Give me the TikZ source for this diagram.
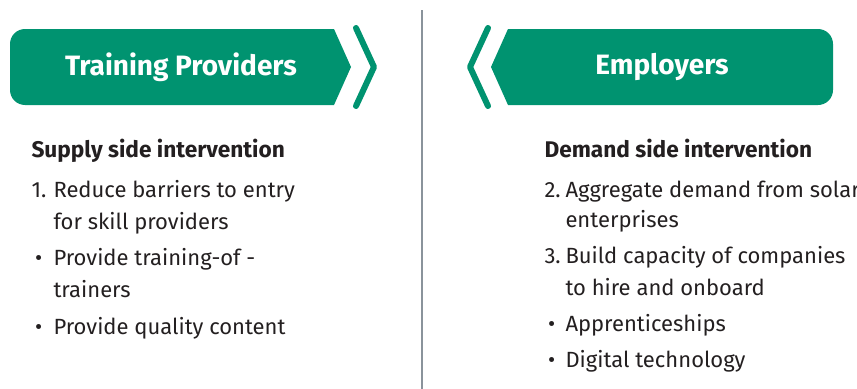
\documentclass[tikz,border=0pt]{standalone}
\usepackage{fontspec}
\setmainfont{Fira Sans}
\definecolor{bannergreen}{RGB}{0,147,112}
\definecolor{bodytext}{RGB}{35,31,32}
\definecolor{dividergray}{RGB}{138,147,155}
\tikzset{every picture/.style={line width=0.75pt}}
\tikzset{
  banner/.style={fill=bannergreen, draw=none},
  chevron/.style={draw=bannergreen, line width=4.5pt, line cap=round, line join=round},
  bannertext/.style={anchor=center, inner sep=0.75pt, text=white, font=\fontsize{21}{24}\selectfont\bfseries},
  headtext/.style={anchor=base west, inner sep=0.75pt, text=bodytext, font=\fontsize{17}{20}\selectfont\bfseries},
  itemtext/.style={anchor=base west, inner sep=0.75pt, text=bodytext, font=\fontsize{16.5}{19}\selectfont}
}

\begin{document}
\begin{tikzpicture}[x=0.75pt,y=0.75pt,yscale=-1,xscale=1]
\clip (0,0) rectangle (857,389);

%Divider [id:divider]
\draw [color=dividergray, line width=1.5pt] (422,10) -- (422,389) ;

%Banner Training Providers
\fill [banner] (334,29) -- (351,67) -- (334,105) -- (25,105) .. controls (16.7,105) and (10,98.3) .. (10,90) -- (10,44) .. controls (10,35.7) and (16.7,29) .. (25,29) -- cycle ;
\draw [chevron] (356,28) -- (374,67) -- (356,106) ;
%Banner Employers
\fill [banner] (508,29) -- (818,29) .. controls (826.3,29) and (833,35.7) .. (833,44) -- (833,90) .. controls (833,98.3) and (826.3,105) .. (818,105) -- (508,105) -- (491,67) -- cycle ;
\draw [chevron] (488,28) -- (470,67) -- (488,106) ;

% Text Node
\draw (181,67) node (tp) [bannertext] {Training Providers};
% Text Node
\draw (662,67) node (emp) [bannertext] {Employers};

% Text Node
\draw (30,157) node (supply) [headtext] {Supply side intervention};
\draw (30,197) node (sone) [itemtext] {1.};
\draw (52,197) node (sonea) [itemtext] {Reduce barriers to entry};
\draw (52,229) node (soneb) [itemtext] {for skill providers};
\draw (30,265) node (stwo) [itemtext] {\,•};
\draw (52,265) node (stwoa) [itemtext] {Provide training-of -};
\draw (52,297) node (stwob) [itemtext] {trainers};
\draw (30,334) node (sthree) [itemtext] {\,•};
\draw (52,334) node (sthreea) [itemtext] {Provide quality content};

% Text Node
\draw (543,157) node (demand) [headtext] {Demand side intervention};
\draw (543,197) node (dtwo) [itemtext] {2.};
\draw (564,197) node (dtwoa) [itemtext] {Aggregate demand from solar};
\draw (564,227) node (dtwob) [itemtext] {enterprises};
\draw (543,263) node (dthree) [itemtext] {3.};
\draw (564,263) node (dthreea) [itemtext] {Build capacity of companies};
\draw (564,295) node (dthreeb) [itemtext] {to hire and onboard};
\draw (543,331) node (dfour) [itemtext] {\,•};
\draw (564,331) node (dfoura) [itemtext] {Apprenticeships};
\draw (543,367) node (dfive) [itemtext] {\,•};
\draw (564,367) node (dfivea) [itemtext] {Digital technology};

\end{tikzpicture}
\end{document}
